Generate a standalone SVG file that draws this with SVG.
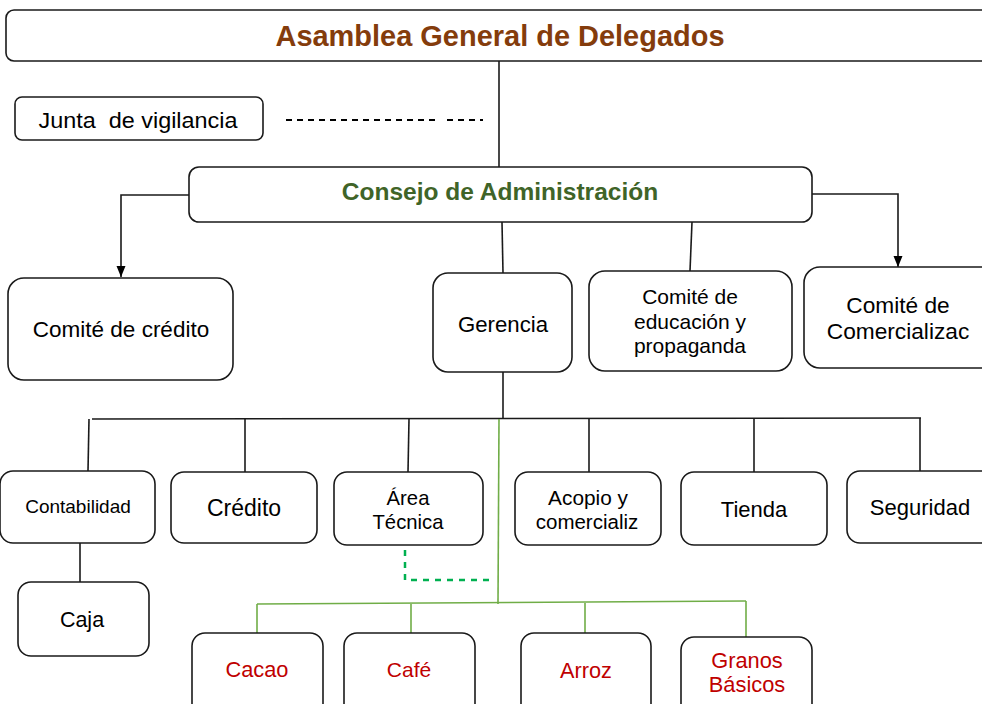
<svg xmlns="http://www.w3.org/2000/svg" width="982" height="704" viewBox="0 0 982 704">
<style>
.box{fill:#fff;stroke:#1a1a1a;stroke-width:1.6}
.t{font-family:"Liberation Sans",Arial,sans-serif;fill:#000;text-anchor:middle}
.red{fill:#c00000}
.ln{stroke:#1a1a1a;stroke-width:1.6;fill:none}
.gl{stroke:#70ad47;stroke-width:1.6;fill:none}
.gd{stroke:#00b050;stroke-width:2.5;fill:none;stroke-dasharray:6,6}
.bd{stroke:#000;stroke-width:2;stroke-dasharray:6,5;fill:none}
</style>
<defs>
<marker id="ah" markerWidth="12" markerHeight="10" refX="11" refY="4.5" orient="auto" markerUnits="userSpaceOnUse">
<path d="M0,0 L11,4.5 L0,9 Z" fill="#000"/>
</marker>
</defs>
<rect width="982" height="704" fill="#fff"/>
<g id="connectors">
<line class="ln" x1="499" y1="61" x2="499" y2="167"/>
<line class="bd" x1="286" y1="120" x2="435" y2="120"/>
<line class="bd" x1="447" y1="120" x2="483" y2="120"/>
<polyline class="ln" points="189,195 121,195 121,277" marker-end="url(#ah)"/>
<polyline class="ln" points="812,194 898,194 898,267" marker-end="url(#ah)"/>
<line class="ln" x1="502" y1="222" x2="503" y2="273"/>
<line class="ln" x1="692" y1="222" x2="690" y2="271"/>
<line class="ln" x1="503" y1="372" x2="503" y2="419"/>
<line class="ln" x1="92" y1="419" x2="921" y2="418"/>
<line class="ln" x1="89" y1="419" x2="88" y2="471"/>
<line class="ln" x1="245" y1="418" x2="245" y2="472"/>
<line class="ln" x1="409" y1="419" x2="408" y2="472"/>
<line class="ln" x1="589" y1="419" x2="589" y2="472"/>
<line class="ln" x1="754" y1="418" x2="754" y2="472"/>
<line class="ln" x1="920" y1="418" x2="920" y2="471"/>
<line class="ln" x1="80" y1="543" x2="80" y2="582"/>
<line class="gl" x1="499" y1="419" x2="498" y2="604"/>
<line class="gl" x1="257" y1="604" x2="746" y2="601"/>
<line class="gl" x1="257" y1="604" x2="257" y2="633"/>
<line class="gl" x1="411" y1="604" x2="411" y2="633"/>
<line class="gl" x1="585" y1="603" x2="585" y2="633"/>
<line class="gl" x1="746" y1="601" x2="746" y2="637"/>
<polyline class="gd" points="405,550 405,580 493,580"/>
</g>
<g id="asamblea">
<rect class="box" x="6" y="10" width="990" height="51" rx="8"/>
<text class="t" x="500" y="46" font-size="29" font-weight="bold" style="fill:#843c0c" textLength="449" lengthAdjust="spacingAndGlyphs">Asamblea General de Delegados</text>
</g>
<g id="junta">
<rect class="box" x="15" y="97" width="248" height="43" rx="7"/>
<text class="t" x="138" y="128" font-size="21.5" textLength="199" lengthAdjust="spacingAndGlyphs" xml:space="preserve">Junta  de vigilancia</text>
</g>
<g id="consejo">
<rect class="box" x="189" y="167" width="623" height="55" rx="10"/>
<text class="t" x="500" y="200" font-size="24.5" font-weight="bold" style="fill:#3f6428">Consejo de Administración</text>
</g>
<g id="comite-credito">
<rect class="box" x="8" y="278" width="225" height="102" rx="16"/>
<text class="t" x="121" y="337" font-size="22.5">Comité de crédito</text>
</g>
<g id="gerencia">
<rect class="box" x="433" y="273" width="139" height="99" rx="15"/>
<text class="t" x="503" y="332" font-size="22.2">Gerencia</text>
</g>
<g id="comite-educacion">
<rect class="box" x="589" y="271" width="203" height="100" rx="16"/>
<text class="t" x="690" y="304" font-size="21">Comité de</text>
<text class="t" x="690" y="329" font-size="21">educación y</text>
<text class="t" x="690" y="353" font-size="21">propaganda</text>
</g>
<g id="comite-comercializacion">
<rect class="box" x="804" y="267" width="200" height="101" rx="16"/>
<text class="t" x="898" y="313" font-size="22.7">Comité de</text>
<text class="t" x="898" y="339" font-size="22.7">Comercializac</text>
</g>
<g id="contabilidad">
<rect class="box" x="0" y="471" width="155" height="72" rx="13"/>
<text class="t" x="78" y="513" font-size="19">Contabilidad</text>
</g>
<g id="credito">
<rect class="box" x="171" y="472" width="146" height="71" rx="13"/>
<text class="t" x="244" y="516" font-size="23">Crédito</text>
</g>
<g id="area-tecnica">
<rect class="box" x="334" y="472" width="149" height="73" rx="13"/>
<text class="t" x="408" y="505" font-size="20.3">Área</text>
<text class="t" x="408" y="529" font-size="20.3">Técnica</text>
</g>
<g id="acopio">
<rect class="box" x="515" y="472" width="146" height="73" rx="13"/>
<text class="t" x="588" y="505" font-size="20.8">Acopio y</text>
<text class="t" x="587" y="529" font-size="20.5">comercializ</text>
</g>
<g id="tienda">
<rect class="box" x="681" y="472" width="146" height="73" rx="13"/>
<text class="t" x="754" y="517" font-size="22">Tienda</text>
</g>
<g id="seguridad">
<rect class="box" x="847" y="471" width="150" height="72" rx="13"/>
<text class="t" x="920" y="515" font-size="22">Seguridad</text>
</g>
<g id="caja">
<rect class="box" x="18" y="582" width="131" height="74" rx="13"/>
<text class="t" x="82" y="627" font-size="21.5">Caja</text>
</g>
<g id="cacao">
<rect class="box" x="192" y="633" width="131" height="85" rx="13"/>
<text class="t red" x="257" y="677" font-size="21.8">Cacao</text>
</g>
<g id="cafe">
<rect class="box" x="344" y="633" width="131" height="85" rx="13"/>
<text class="t red" x="409" y="677" font-size="21">Café</text>
</g>
<g id="arroz">
<rect class="box" x="521" y="633" width="130" height="85" rx="13"/>
<text class="t red" x="586" y="678" font-size="21.7">Arroz</text>
</g>
<g id="granos">
<rect class="box" x="681" y="637" width="131" height="85" rx="13"/>
<text class="t red" x="747" y="668" font-size="21.8">Granos</text>
<text class="t red" x="747" y="692" font-size="21.8">Básicos</text>
</g>
</svg>
